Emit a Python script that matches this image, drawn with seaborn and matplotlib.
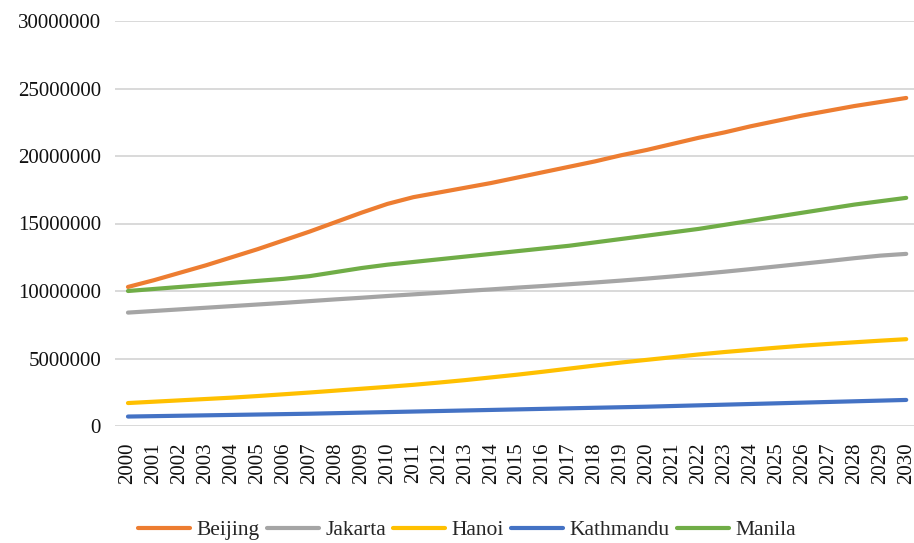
import matplotlib
matplotlib.use("Agg")
import matplotlib.pyplot as plt
import seaborn as sns
import pandas as pd

years = list(range(2000, 2031))

beijing = [10.30, 10.80, 11.35, 11.90, 12.50, 13.10, 13.75, 14.40, 15.10, 15.80,
           16.45, 16.95, 17.30, 17.65, 18.00, 18.40, 18.80, 19.20, 19.60, 20.05,
           20.45, 20.90, 21.35, 21.75, 22.20, 22.60, 23.00, 23.35, 23.70, 24.00, 24.30]
jakarta = [8.40, 8.52, 8.64, 8.76, 8.88, 9.00, 9.12, 9.25, 9.38, 9.50,
           9.63, 9.75, 9.87, 10.00, 10.12, 10.25, 10.37, 10.50, 10.63, 10.77,
           10.92, 11.08, 11.25, 11.43, 11.62, 11.82, 12.02, 12.22, 12.43, 12.62, 12.75]
hanoi = [1.70, 1.80, 1.90, 2.00, 2.10, 2.22, 2.35, 2.48, 2.62, 2.76,
         2.90, 3.05, 3.22, 3.40, 3.60, 3.80, 4.02, 4.25, 4.48, 4.70,
         4.90, 5.10, 5.30, 5.48, 5.64, 5.80, 5.95, 6.08, 6.20, 6.32, 6.43]
kathmandu = [0.70, 0.73, 0.76, 0.79, 0.82, 0.85, 0.88, 0.91, 0.95, 0.99,
             1.03, 1.07, 1.11, 1.15, 1.19, 1.23, 1.27, 1.31, 1.35, 1.39,
             1.43, 1.48, 1.53, 1.58, 1.63, 1.68, 1.73, 1.78, 1.83, 1.88, 1.93]
manila = [10.00, 10.15, 10.30, 10.45, 10.60, 10.75, 10.90, 11.10, 11.40, 11.70,
          11.95, 12.15, 12.35, 12.55, 12.75, 12.95, 13.15, 13.35, 13.60, 13.85,
          14.10, 14.35, 14.60, 14.90, 15.20, 15.50, 15.80, 16.10, 16.40, 16.65, 16.90]

cities = ["Beijing", "Jakarta", "Hanoi", "Kathmandu", "Manila"]
colors = ["#ED7D31", "#A5A5A5", "#FFC000", "#4472C4", "#70AD47"]
y_ticks = [0, 5000000, 10000000, 15000000, 20000000, 25000000, 30000000]

series = dict(zip(cities, [beijing, jakarta, hanoi, kathmandu, manila]))
df = pd.DataFrame(
    [(y, c, v * 1e6) for c in cities for y, v in zip(years, series[c])],
    columns=["Year", "City", "Population"],
)

sns.set_theme(style="white")
plt.rcParams["font.family"] = ["Liberation Serif", "DejaVu Serif"]

fig = plt.figure(figsize=(9.14, 5.43), dpi=100)
ax = fig.add_axes([115 / 914, 1 - 426 / 543, 799 / 914, 405 / 543])

sns.lineplot(data=df, x="Year", y="Population", hue="City", hue_order=cities,
             palette=colors, linewidth=3.0, ax=ax, legend=True)

ax.set_xlim(1999.5, 2030.3)
ax.set_ylim(0, 30000000)
ax.set_xticks(years)
ax.set_xticklabels([str(y) for y in years], rotation=90, fontsize=15, color="#111111")
ax.set_yticks(y_ticks)
ax.set_yticklabels([str(t) for t in y_ticks], fontsize=15, color="#111111")
ax.tick_params(axis="x", length=0, pad=12)
ax.tick_params(axis="y", length=0, pad=10)
ax.set_xlabel("")
ax.set_ylabel("")
ax.grid(axis="y", color="#D9D9D9", linewidth=1.4)
ax.grid(axis="x", visible=False)
ax.set_axisbelow(True)
for s in ax.spines.values():
    s.set_visible(False)

handles, labels = ax.get_legend_handles_labels()
ax.get_legend().remove()
fig.legend(handles, labels, loc="center", bbox_to_anchor=(467 / 914, 1 - 530 / 543),
           ncol=5, frameon=False, fontsize=15.5, handlelength=2.4,
           handletextpad=0.3, columnspacing=0.35)

fig.savefig("out.png", dpi=100)
